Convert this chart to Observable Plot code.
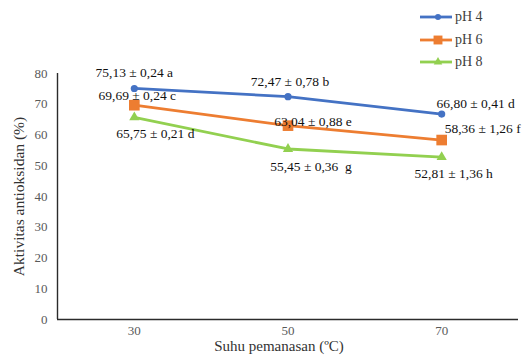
<!DOCTYPE html>
<html>
<head>
<meta charset="utf-8">
<script src="https://cdn.jsdelivr.net/npm/d3@7"></script>
<script src="https://cdn.jsdelivr.net/npm/@observablehq/plot@0.6"></script>
<style>
  body { margin: 0; background: #fff; }
  #chart { position: relative; width: 525px; height: 358px; font-family: 'Liberation Serif', 'Times New Roman', Times, serif; }
  #legend { position: absolute; left: 418px; top: 6px; }
  #legend .row { display: flex; align-items: center; height: 22.5px; font-size: 14px; color: #404040; }
  #legend svg { display: block; margin-right: 1px; }
</style>
</head>
<body>
<div id="chart"></div>
<script>
// Antioxidant activity (%) by heating temperature and pH
const temperatures = [30, 50, 70];
const seriesNames = ["pH 4", "pH 6", "pH 8"];
const ph4 = [75.13, 72.47, 66.80];
const ph6 = [69.69, 63.04, 58.36];
const ph8 = [65.75, 55.45, 52.81];
const ph4Labels = ["75,13 ± 0,24 a", "72,47 ± 0,78 b", "66,80 ± 0,41 d"];
const ph6Labels = ["69,69 ± 0,24 c", "63,04 ± 0,88 e", "58,36 ± 1,26 f"];
const ph8Labels = ["65,75 ± 0,21 d", "55,45 ± 0,36  g", "52,81 ± 1,36 h"];
const yTicks = [0, 10, 20, 30, 40, 50, 60, 70, 80];
const xTitle = "Suhu pemanasan (ºC)";
const yTitle = "Aktivitas antioksidan (%)";

const serif = "'Liberation Serif', 'Times New Roman', Times, serif";

// Styling for each series: colour, marker and marker radius
const seriesStyle = [
  { color: "#4472C4", symbol: "circle", r: 3.6 },
  { color: "#ED7D31", symbol: "square", r: 6 },
  { color: "#92D050", symbol: "triangle", r: 3.8 }
];
// Pixel offsets of each value label from its point
const labelOffsets = [
  [[0, -16], [2, -15], [34, -10]],
  [[3, -10], [25, -4], [41, -11]],
  [[21, 16], [23, 18], [12, 17]]
];

const values = [ph4, ph6, ph8];
const labels = [ph4Labels, ph6Labels, ph8Labels];
const rows = seriesNames.flatMap((name, s) =>
  temperatures.map((t, i) => ({ series: name, s, i, temp: t, value: values[s][i], label: labels[s][i] }))
);

const marks = [
  Plot.ruleY([0], { x1: 20, x2: 80, stroke: "#2b2b2b", strokeWidth: 1.4 }),
  Plot.ruleX([20], { y1: 0, y2: 80, stroke: "#2b2b2b", strokeWidth: 1.4 })
];
seriesNames.forEach((name, s) => {
  const data = rows.filter(d => d.s === s);
  const st = seriesStyle[s];
  marks.push(Plot.line(data, { x: "temp", y: "value", stroke: st.color, strokeWidth: 2.8 }));
  marks.push(Plot.dot(data, { x: "temp", y: "value", fill: st.color, symbol: () => st.symbol, r: st.r }));
});
rows.forEach(d => {
  const [dx, dy] = labelOffsets[d.s][d.i];
  marks.push(Plot.text([d], { x: "temp", y: "value", text: "label", dx, dy, fill: "#111", fontSize: 13.5, fontFamily: serif }));
});
marks.push(Plot.text([xTitle], { frameAnchor: "bottom", textAnchor: "middle", dx: -9, dy: 31, fill: "#333", fontSize: 15, fontFamily: serif }));
marks.push(Plot.text([yTitle], { frameAnchor: "left", textAnchor: "middle", dx: -38, rotate: -90, fill: "#333", fontSize: 15.5, fontFamily: serif }));

const plot = Plot.plot({
  width: 525,
  height: 358,
  marginLeft: 57,
  marginRight: 7,
  marginTop: 73,
  marginBottom: 39,
  style: { fontFamily: serif, fontSize: "13px", color: "#595959", background: "#fff" },
  x: { type: "linear", domain: [20, 80], ticks: temperatures, tickSize: 0, tickPadding: 6, label: null },
  y: { domain: [0, 80], ticks: yTicks, tickSize: 0, tickPadding: 10, label: null },
  symbol: { type: "identity" },
  marks
});

const chart = document.getElementById("chart");
chart.appendChild(plot);

// Legend: line with marker, then the series name
const legend = document.createElement("div");
legend.id = "legend";
seriesNames.forEach((name, s) => {
  const st = seriesStyle[s];
  const row = document.createElement("div");
  row.className = "row";
  const sw = d3.create("svg").attr("width", 36).attr("height", 12);
  sw.append("line").attr("x1", 2).attr("x2", 34).attr("y1", 6).attr("y2", 6)
    .attr("stroke", st.color).attr("stroke-width", 2.8);
  const sym = { circle: d3.symbolCircle, square: d3.symbolSquare, triangle: d3.symbolTriangle }[st.symbol];
  sw.append("path").attr("transform", "translate(20,6)")
    .attr("d", d3.symbol(sym, Math.PI * st.r * st.r * 0.7)())
    .attr("fill", st.color);
  row.appendChild(sw.node());
  const txt = document.createElement("span");
  txt.textContent = name;
  row.appendChild(txt);
  legend.appendChild(row);
});
chart.appendChild(legend);
</script>
</body>
</html>
